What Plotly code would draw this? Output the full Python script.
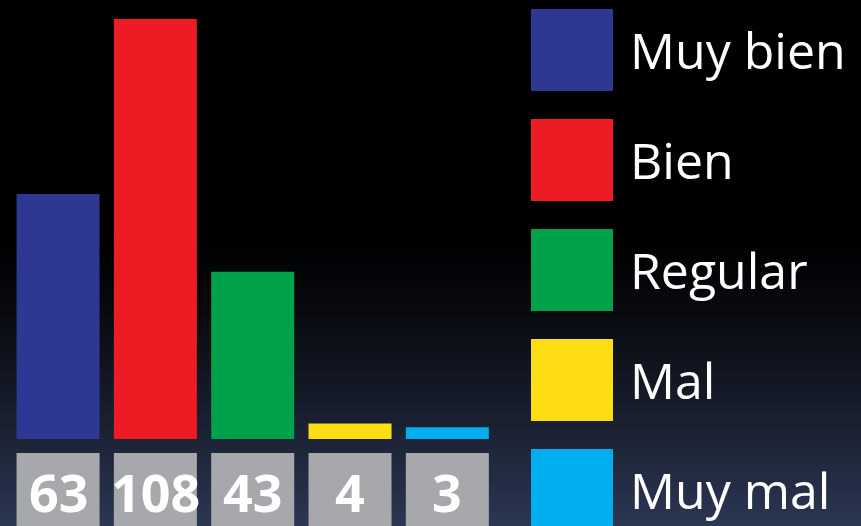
import plotly.graph_objects as go

# Survey results
categories = ["Muy bien", "Bien", "Regular", "Mal", "Muy mal"]
counts = [63, 108, 43, 4, 3]
colors = ["#2E3791", "#ED1C24", "#00A14B", "#FFDD15", "#00AEEF"]
label_box_color = "#A7A8AB"

W, H = 861, 526
fig = go.Figure()

# Main bars
fig.add_trace(go.Bar(
    x=categories, y=counts, marker=dict(color=colors, line=dict(width=0)),
    xaxis="x", yaxis="y", hoverinfo="skip", showlegend=False,
))

# Grey value boxes under each bar
fig.add_trace(go.Bar(
    x=categories, y=[1] * len(categories),
    marker=dict(color=label_box_color, line=dict(width=0)),
    xaxis="x2", yaxis="y2", hoverinfo="skip", showlegend=False,
))

# Value labels on the grey boxes
annotations = []
for cat, val in zip(categories, counts):
    annotations.append(dict(
        x=cat, y=0.47, xref="x2", yref="y2", text=str(val), showarrow=False,
        xanchor="center", yanchor="middle",
        font=dict(family="Open Sans", size=52, color="white", weight="bold"),
    ))

# Legend: large colour squares with labels
legend_idx = list(range(len(categories)))
fig.add_trace(go.Scatter(
    x=[572] * len(categories), y=legend_idx, mode="markers",
    marker=dict(symbol="square", size=82, color=colors, line=dict(width=0)),
    xaxis="x3", yaxis="y3", hoverinfo="skip", showlegend=False,
))
for i, cat in zip(legend_idx, categories):
    annotations.append(dict(
        x=628, y=i, xref="x3", yref="y3", text=cat, showarrow=False,
        xanchor="left", yanchor="middle",
        font=dict(family="Open Sans", size=50, color="white"),
    ))

# Background: black fading to slate blue toward the bottom
shapes = []
n_bands = 80
start = 0.56  # fraction of height (from bottom) where the fade begins
end_rgb = (44, 55, 84)
for k in range(n_bands):
    y0 = start * k / n_bands
    y1 = start * (k + 1) / n_bands + 0.002
    t = 1 - (k + 0.5) / n_bands
    t = t ** 1.25
    c = tuple(int(round(v * t)) for v in end_rgb)
    shapes.append(dict(
        type="rect", xref="paper", yref="paper", x0=0, x1=1, y0=y0, y1=min(y1, start),
        fillcolor="rgb(%d,%d,%d)" % c, line=dict(width=0), layer="below",
    ))

unit_px = 420 / 108
bar_bottom_px = 439
box_top_px = 453

fig.update_layout(
    width=W, height=H,
    margin=dict(l=0, r=0, t=0, b=0),
    paper_bgcolor="black", plot_bgcolor="rgba(0,0,0,0)",
    bargap=0.147,
    xaxis=dict(domain=[9.4 / W, 496 / W], range=[-0.5, 4.5], visible=False, fixedrange=True),
    yaxis=dict(domain=[(H - bar_bottom_px) / H, 1], range=[0, bar_bottom_px / unit_px],
               visible=False, fixedrange=True),
    xaxis2=dict(domain=[9.4 / W, 496 / W], range=[-0.5, 4.5], visible=False,
                anchor="y2", fixedrange=True),
    yaxis2=dict(domain=[0, (H - box_top_px) / H], range=[0, 1], visible=False,
                anchor="x2", fixedrange=True),
    xaxis3=dict(domain=[0, 1], range=[0, W], visible=False, anchor="y3", fixedrange=True),
    yaxis3=dict(domain=[0, 1], range=[(H - 50) / 110, -50 / 110], visible=False,
                anchor="x3", fixedrange=True),
    shapes=shapes,
    annotations=annotations,
    showlegend=False,
)

fig.write_html("out.html", config={"displayModeBar": False})
